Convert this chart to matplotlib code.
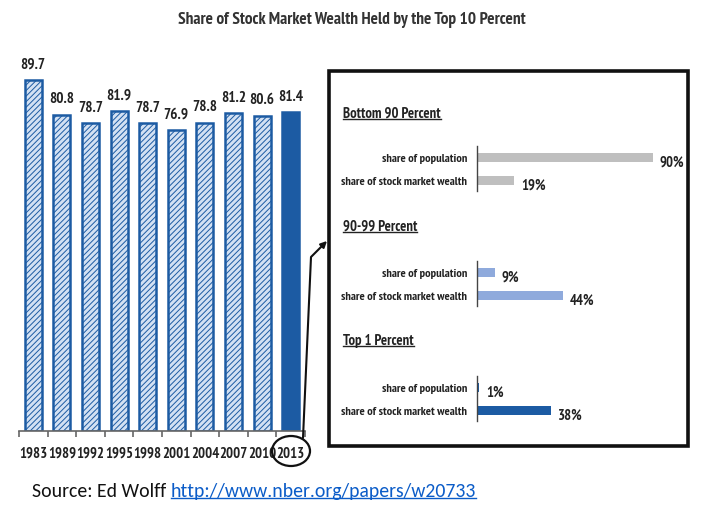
import matplotlib
matplotlib.use("Agg")
import matplotlib.pyplot as plt
from matplotlib.patches import Rectangle, Ellipse, FancyArrowPatch
from matplotlib.path import Path
from matplotlib.lines import Line2D

# ---------------- data ----------------
years = ["1983", "1989", "1992", "1995", "1998", "2001", "2004", "2007", "2010", "2013"]
top10_share = [89.7, 80.8, 78.7, 81.9, 78.7, 76.9, 78.8, 81.2, 80.6, 81.4]

groups = ["Bottom 90 Percent", "90-99 Percent", "Top 1 Percent"]
row_labels = ["share of population", "share of stock market wealth"]
pop_share = [90, 9, 1]
wealth_share = [19, 44, 38]
group_colors = ["#bfbfbf", "#8faadc", "#1c5ba3"]

title = "Share of Stock Market Wealth Held by the Top 10 Percent"
source_text = "Source: Ed Wolff "
source_link = "http://www.nber.org/papers/w20733"

# ---------------- layout helpers ----------------
W, H = 705, 510
NARROW = ["PT Sans Narrow", "DejaVu Sans"]
BODY = ["Carlito", "DejaVu Sans"]
plt.rcParams["hatch.linewidth"] = 0.7

fig = plt.figure(figsize=(W / 100, H / 100), dpi=100)
fig.patch.set_facecolor("white")


def fx(x):
    return x / W


def fy(y):
    return 1 - y / H


def add_axes_px(x0, y0, x1, y1):
    return fig.add_axes([fx(x0), fy(y1), (x1 - x0) / W, (y1 - y0) / H])


# ---------------- title ----------------
fig.text(fx(352), fy(20), title, ha="center", va="center", fontsize=12.4,
         fontweight="bold", family=NARROW, color="#333333")

# ---------------- left bar chart ----------------
ax = add_axes_px(19, 60, 305, 432)
ax.set_xlim(-0.5, len(years) - 0.5)
ax.set_ylim(0, 95.07)
xs = list(range(len(years)))
light = "#d3e1f3"
dark = "#1c5ba3"
for i, v in enumerate(top10_share):
    last = i == len(years) - 1
    ax.bar(i, v, width=0.6, color=dark if last else light, edgecolor=dark,
           linewidth=1.8, hatch=None if last else "//////", zorder=2)
    ax.text(i, v + 2.4, f"{v:.1f}", ha="center", va="bottom", fontsize=11,
            fontweight="bold", family=NARROW, color="#222222")
for s in ["top", "right", "left"]:
    ax.spines[s].set_visible(False)
ax.spines["bottom"].set_color("#666666")
ax.spines["bottom"].set_linewidth(1.2)
ax.set_yticks([])
ax.set_xticks(xs)
ax.set_xticklabels(years, fontsize=10.6, fontweight="bold", family=NARROW,
                   color="#222222")
ax.tick_params(axis="x", which="major", length=0, pad=10.5)
ax.set_xticks([i - 0.5 for i in range(len(years) + 1)], minor=True)
ax.tick_params(axis="x", which="minor", length=4, width=1.2, color="#666666",
               direction="out")
ax.patch.set_alpha(0)

# circle around 2013 and connector arrow
fig.add_artist(Ellipse((fx(291), fy(452)), 38 / W, 30 / H, fill=False,
                       edgecolor="#111111", linewidth=1.6,
                       transform=fig.transFigure))
arrow_path = Path([(fx(303), fy(439)), (fx(311), fy(258)), (fx(327), fy(242))],
                  [Path.MOVETO, Path.LINETO, Path.LINETO])
fig.add_artist(FancyArrowPatch(path=arrow_path, arrowstyle="-|>",
                               mutation_scale=9, color="#111111",
                               linewidth=1.5, transform=fig.transFigure))

# ---------------- right panel box ----------------
fig.add_artist(Rectangle((fx(329), fy(447)), (688 - 329) / W, (447 - 72) / H,
                         fill=True, facecolor="white", edgecolor="#111111",
                         linewidth=2.6, transform=fig.transFigure, zorder=0))

header_y = [114, 227, 341]
row1_y = [158, 273, 388]
row_gap = 23
headers = []
for g in range(3):
    t = fig.text(fx(343), fy(header_y[g]), groups[g], ha="left", va="center",
                 fontsize=10.5, fontweight="bold", family=NARROW,
                 color="#222222")
    headers.append(t)

    top = row1_y[g] - 11
    bot = row1_y[g] + row_gap + 11
    gax = add_axes_px(477, top, 672, bot)
    gax.set_xlim(0, 100)
    unit = row_gap
    gax.set_ylim(1 + 11 / unit, -11 / unit)
    vals = [pop_share[g], wealth_share[g]]
    gax.barh([0, 1], vals, height=9 / unit, color=group_colors[g], zorder=2)
    for r, v in enumerate(vals):
        gax.text(v + 3.5, r + 0.2, f"{v}%", ha="left", va="center",
                 fontsize=10.5, fontweight="bold", family=NARROW,
                 color="#222222")
    for s in ["top", "right", "bottom"]:
        gax.spines[s].set_visible(False)
    gax.spines["left"].set_color("#444444")
    gax.spines["left"].set_linewidth(1.0)
    gax.set_xticks([])
    gax.set_yticks([0, 1])
    gax.set_yticklabels(row_labels, fontsize=8.9, fontweight="bold",
                        family=NARROW, color="#222222")
    gax.tick_params(axis="y", length=0, pad=7)
    gax.patch.set_alpha(0)

# ---------------- source line ----------------
src = fig.text(fx(32), fy(492), source_text, ha="left", va="center",
               fontsize=14.2, family=BODY, color="#111111")
fig.canvas.draw()
r = fig.canvas.get_renderer()
bb = src.get_window_extent(r)
link = fig.text(bb.x1 / W, fy(492), source_link, ha="left", va="center",
                fontsize=14.2, family=BODY, color="#0b5cc8")

fig.canvas.draw()
r = fig.canvas.get_renderer()


def underline(t, color, lw, off):
    b = t.get_window_extent(r)
    y = (b.y0 + off) / H
    fig.add_artist(Line2D([b.x0 / W, b.x1 / W], [y, y], color=color,
                          linewidth=lw, transform=fig.transFigure))


for t in headers:
    underline(t, "#222222", 1.0, 1)
underline(link, "#0b5cc8", 1.0, 2)

fig.savefig("out.png", dpi=100)
